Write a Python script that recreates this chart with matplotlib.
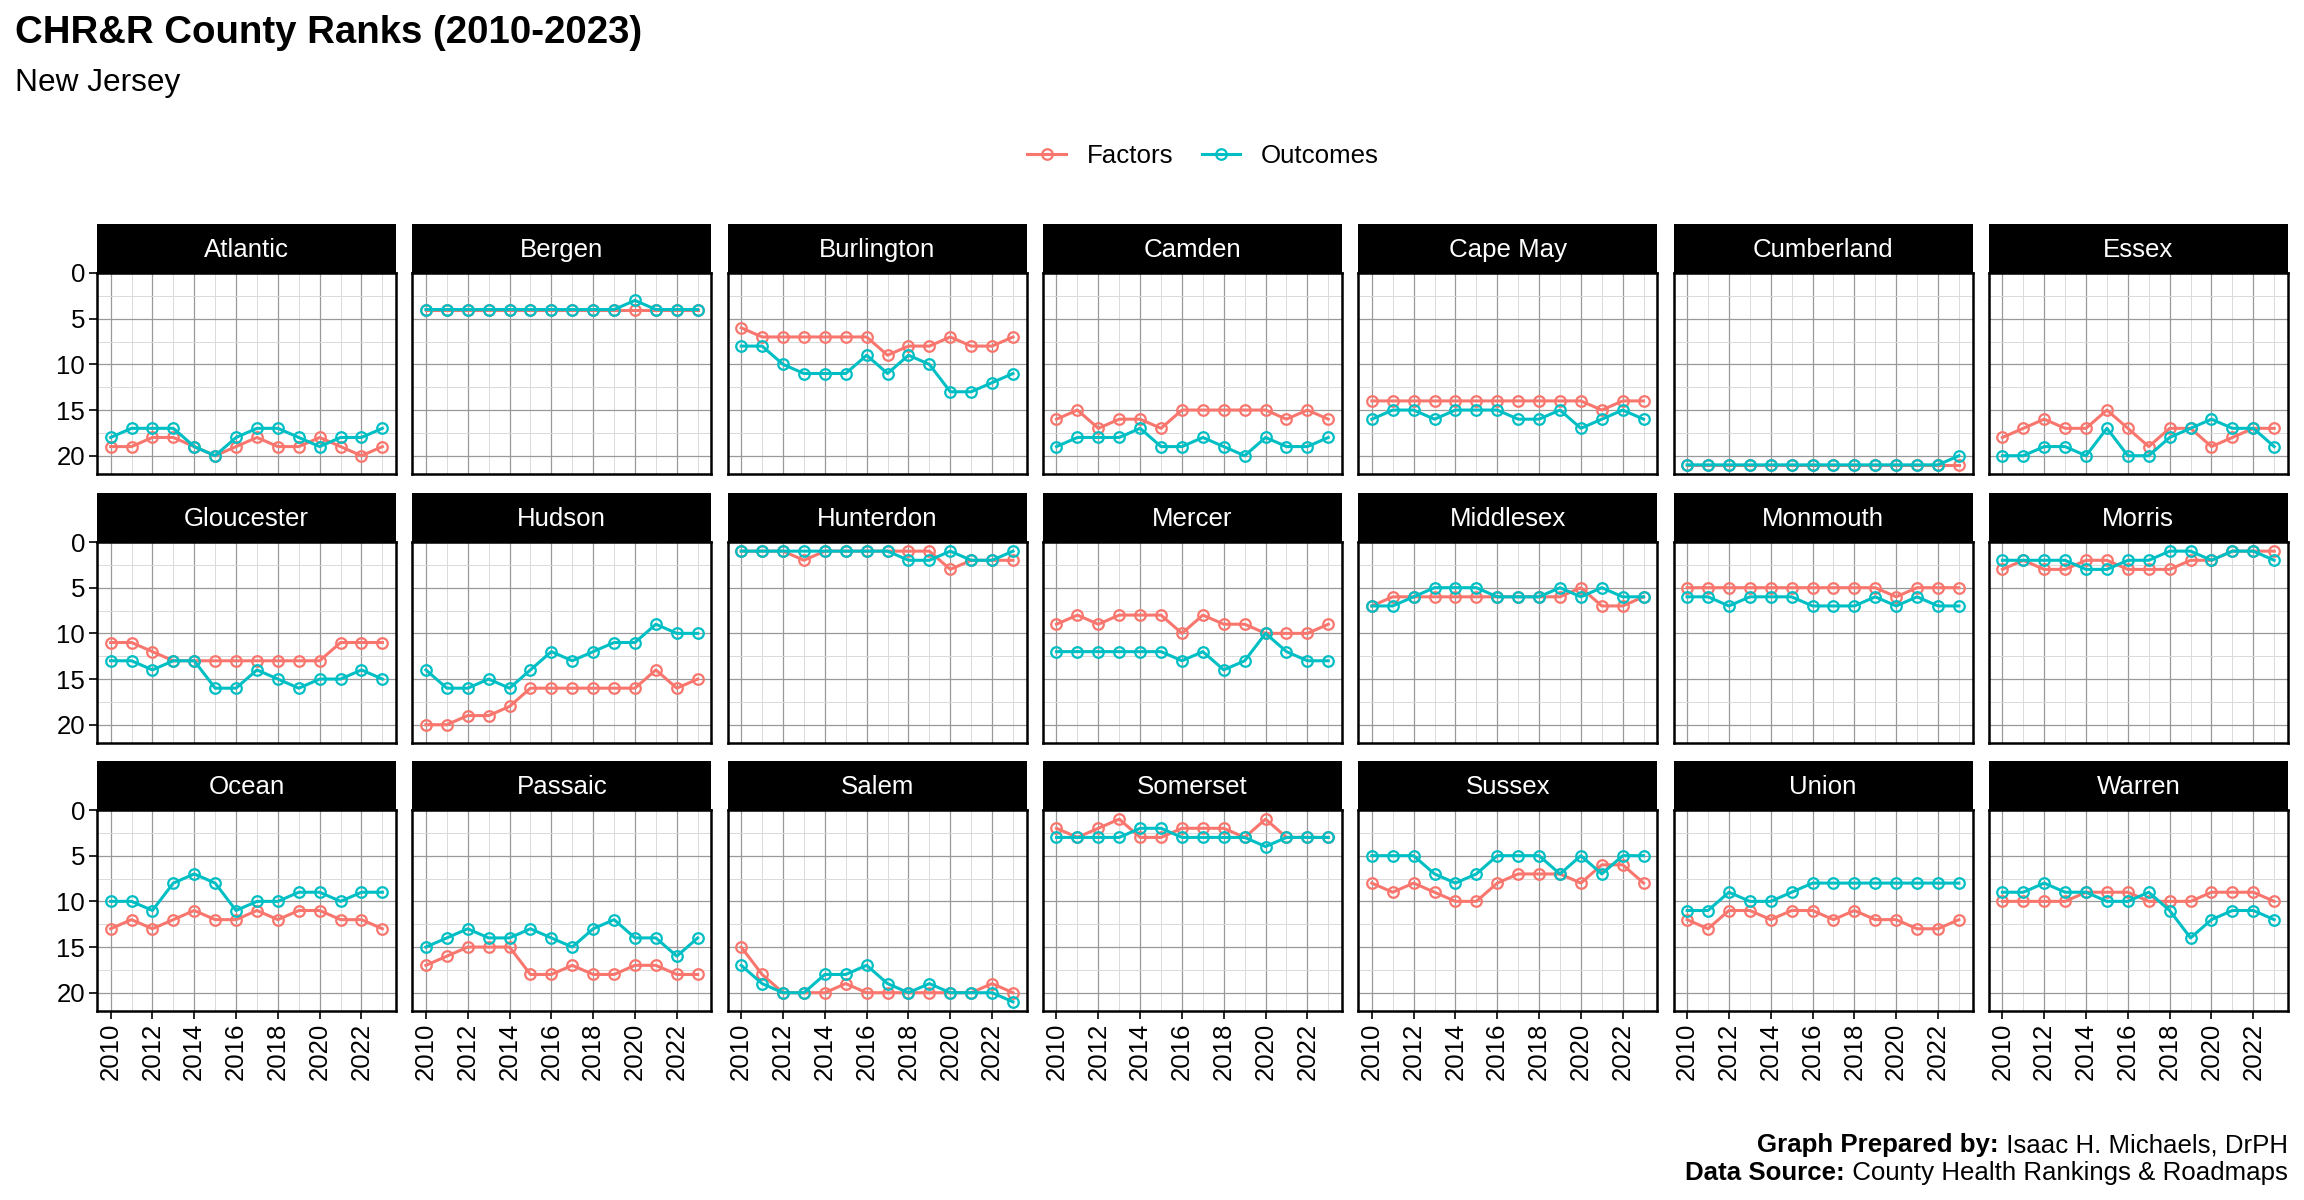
import matplotlib
matplotlib.use('Agg')
import matplotlib.pyplot as plt
from matplotlib.lines import Line2D
from matplotlib.ticker import MultipleLocator

plt.rcParams['font.family'] = ['Liberation Sans', 'DejaVu Sans']

# County Health Rankings for New Jersey, 2010-2023
years = [2010, 2011, 2012, 2013, 2014, 2015, 2016, 2017, 2018, 2019, 2020, 2021, 2022, 2023]
year_ticks = [2010, 2012, 2014, 2016, 2018, 2020, 2022]
rank_ticks = [0, 5, 10, 15, 20]

counties = ['Atlantic', 'Bergen', 'Burlington', 'Camden', 'Cape May', 'Cumberland', 'Essex',
            'Gloucester', 'Hudson', 'Hunterdon', 'Mercer', 'Middlesex', 'Monmouth', 'Morris',
            'Ocean', 'Passaic', 'Salem', 'Somerset', 'Sussex', 'Union', 'Warren']

factors = [
    [19, 19, 18, 18, 19, 20, 19, 18, 19, 19, 18, 19, 20, 19],  # Atlantic
    [4, 4, 4, 4, 4, 4, 4, 4, 4, 4, 4, 4, 4, 4],                # Bergen
    [6, 7, 7, 7, 7, 7, 7, 9, 8, 8, 7, 8, 8, 7],                # Burlington
    [16, 15, 17, 16, 16, 17, 15, 15, 15, 15, 15, 16, 15, 16],  # Camden
    [14, 14, 14, 14, 14, 14, 14, 14, 14, 14, 14, 15, 14, 14],  # Cape May
    [21, 21, 21, 21, 21, 21, 21, 21, 21, 21, 21, 21, 21, 21],  # Cumberland
    [18, 17, 16, 17, 17, 15, 17, 19, 17, 17, 19, 18, 17, 17],  # Essex
    [11, 11, 12, 13, 13, 13, 13, 13, 13, 13, 13, 11, 11, 11],  # Gloucester
    [20, 20, 19, 19, 18, 16, 16, 16, 16, 16, 16, 14, 16, 15],  # Hudson
    [1, 1, 1, 2, 1, 1, 1, 1, 1, 1, 3, 2, 2, 2],                # Hunterdon
    [9, 8, 9, 8, 8, 8, 10, 8, 9, 9, 10, 10, 10, 9],            # Mercer
    [7, 6, 6, 6, 6, 6, 6, 6, 6, 6, 5, 7, 7, 6],                # Middlesex
    [5, 5, 5, 5, 5, 5, 5, 5, 5, 5, 6, 5, 5, 5],                # Monmouth
    [3, 2, 3, 3, 2, 2, 3, 3, 3, 2, 2, 1, 1, 1],                # Morris
    [13, 12, 13, 12, 11, 12, 12, 11, 12, 11, 11, 12, 12, 13],  # Ocean
    [17, 16, 15, 15, 15, 18, 18, 17, 18, 18, 17, 17, 18, 18],  # Passaic
    [15, 18, 20, 20, 20, 19, 20, 20, 20, 20, 20, 20, 19, 20],  # Salem
    [2, 3, 2, 1, 3, 3, 2, 2, 2, 3, 1, 3, 3, 3],                # Somerset
    [8, 9, 8, 9, 10, 10, 8, 7, 7, 7, 8, 6, 6, 8],              # Sussex
    [12, 13, 11, 11, 12, 11, 11, 12, 11, 12, 12, 13, 13, 12],  # Union
    [10, 10, 10, 10, 9, 9, 9, 10, 10, 10, 9, 9, 9, 10],        # Warren
]

outcomes = [
    [18, 17, 17, 17, 19, 20, 18, 17, 17, 18, 19, 18, 18, 17],  # Atlantic
    [4, 4, 4, 4, 4, 4, 4, 4, 4, 4, 3, 4, 4, 4],                # Bergen
    [8, 8, 10, 11, 11, 11, 9, 11, 9, 10, 13, 13, 12, 11],      # Burlington
    [19, 18, 18, 18, 17, 19, 19, 18, 19, 20, 18, 19, 19, 18],  # Camden
    [16, 15, 15, 16, 15, 15, 15, 16, 16, 15, 17, 16, 15, 16],  # Cape May
    [21, 21, 21, 21, 21, 21, 21, 21, 21, 21, 21, 21, 21, 20],  # Cumberland
    [20, 20, 19, 19, 20, 17, 20, 20, 18, 17, 16, 17, 17, 19],  # Essex
    [13, 13, 14, 13, 13, 16, 16, 14, 15, 16, 15, 15, 14, 15],  # Gloucester
    [14, 16, 16, 15, 16, 14, 12, 13, 12, 11, 11, 9, 10, 10],   # Hudson
    [1, 1, 1, 1, 1, 1, 1, 1, 2, 2, 1, 2, 2, 1],                # Hunterdon
    [12, 12, 12, 12, 12, 12, 13, 12, 14, 13, 10, 12, 13, 13],  # Mercer
    [7, 7, 6, 5, 5, 5, 6, 6, 6, 5, 6, 5, 6, 6],                # Middlesex
    [6, 6, 7, 6, 6, 6, 7, 7, 7, 6, 7, 6, 7, 7],                # Monmouth
    [2, 2, 2, 2, 3, 3, 2, 2, 1, 1, 2, 1, 1, 2],                # Morris
    [10, 10, 11, 8, 7, 8, 11, 10, 10, 9, 9, 10, 9, 9],         # Ocean
    [15, 14, 13, 14, 14, 13, 14, 15, 13, 12, 14, 14, 16, 14],  # Passaic
    [17, 19, 20, 20, 18, 18, 17, 19, 20, 19, 20, 20, 20, 21],  # Salem
    [3, 3, 3, 3, 2, 2, 3, 3, 3, 3, 4, 3, 3, 3],                # Somerset
    [5, 5, 5, 7, 8, 7, 5, 5, 5, 7, 5, 7, 5, 5],                # Sussex
    [11, 11, 9, 10, 10, 9, 8, 8, 8, 8, 8, 8, 8, 8],            # Union
    [9, 9, 8, 9, 9, 10, 10, 9, 11, 14, 12, 11, 11, 12],        # Warren
]

red = '#F8766D'
teal = '#00BFC4'

# layout in pixels
W, H, DPI = 2304, 1200, 200
col_left, col_step, panel_w = 97, 315.3, 299
row_top = [273, 542, 810]
panel_h, strip_h = 201, 49
ncols = 7

fig = plt.figure(figsize=(W / DPI, H / DPI), dpi=DPI)

for i, name in enumerate(counties):
    r, c = divmod(i, ncols)
    x0 = col_left + c * col_step
    y0 = row_top[r]
    ax = fig.add_axes([x0 / W, 1 - (y0 + panel_h) / H, panel_w / W, panel_h / H])

    ax.plot(years, factors[i], color=red, lw=1.1, marker='o', ms=3.8,
            mfc='none', mew=0.8, zorder=3)
    ax.plot(years, outcomes[i], color=teal, lw=1.1, marker='o', ms=3.8,
            mfc='none', mew=0.8, zorder=4)

    ax.set_xlim(2010 - 0.65, 2023 + 0.65)
    ax.set_ylim(22, 0)
    ax.set_xticks(year_ticks)
    ax.set_yticks(rank_ticks)
    ax.xaxis.set_minor_locator(MultipleLocator(1))
    ax.yaxis.set_minor_locator(MultipleLocator(2.5))
    ax.set_axisbelow(True)
    ax.grid(which='major', color='#999999', lw=0.45)
    ax.grid(which='minor', color='#dadada', lw=0.35)
    for s in ax.spines.values():
        s.set_linewidth(0.9)
        s.set_color('black')

    ax.tick_params(which='minor', length=0)
    ax.tick_params(which='major', length=2.8, width=0.6, labelsize=9.3, pad=1.5)
    ax.tick_params(axis='x', labelrotation=90)
    if c != 0:
        ax.tick_params(axis='y', length=0, labelleft=False)
    if r != 2:
        ax.tick_params(axis='x', length=0, labelbottom=False)

    sax = fig.add_axes([x0 / W, 1 - y0 / H, panel_w / W, strip_h / H])
    sax.set_facecolor('black')
    sax.set_xticks([])
    sax.set_yticks([])
    for s in sax.spines.values():
        s.set_visible(False)
    sax.text(0.5, 0.46, name, color='white', fontsize=9.3,
             ha='center', va='center', transform=sax.transAxes)

# titles
fig.text(15 / W, 1 - 43 / H, 'CHR&R County Ranks (2010-2023)', fontsize=13.8,
         fontweight='bold', ha='left', va='baseline')
fig.text(15 / W, 1 - 91 / H, 'New Jersey', fontsize=11.4, ha='left', va='baseline')

# legend
handles = [
    Line2D([], [], color=red, lw=1.1, marker='o', ms=3.8, mfc='none', mew=0.8),
    Line2D([], [], color=teal, lw=1.1, marker='o', ms=3.8, mfc='none', mew=0.8),
]
fig.legend(handles, ['Factors', 'Outcomes'], loc='center', ncol=2,
           bbox_to_anchor=(1203 / W, 1 - 156 / H), frameon=False, fontsize=9.3,
           handlelength=1.5, handletextpad=0.8, columnspacing=1.1)

# caption with bold labels
renderer = fig.canvas.get_renderer()
x_right = 2288 / W
caption = [('Graph Prepared by:', ' Isaac H. Michaels, DrPH', 1152),
           ('Data Source:', ' County Health Rankings & Roadmaps', 1180)]
for bold, plain, ybase in caption:
    t = fig.text(x_right, 1 - ybase / H, plain, fontsize=9.3, ha='right', va='baseline')
    w = t.get_window_extent(renderer=renderer).width / W
    fig.text(x_right - w, 1 - ybase / H, bold, fontsize=9.3, fontweight='bold',
             ha='right', va='baseline')

fig.savefig('out.png', dpi=DPI)
